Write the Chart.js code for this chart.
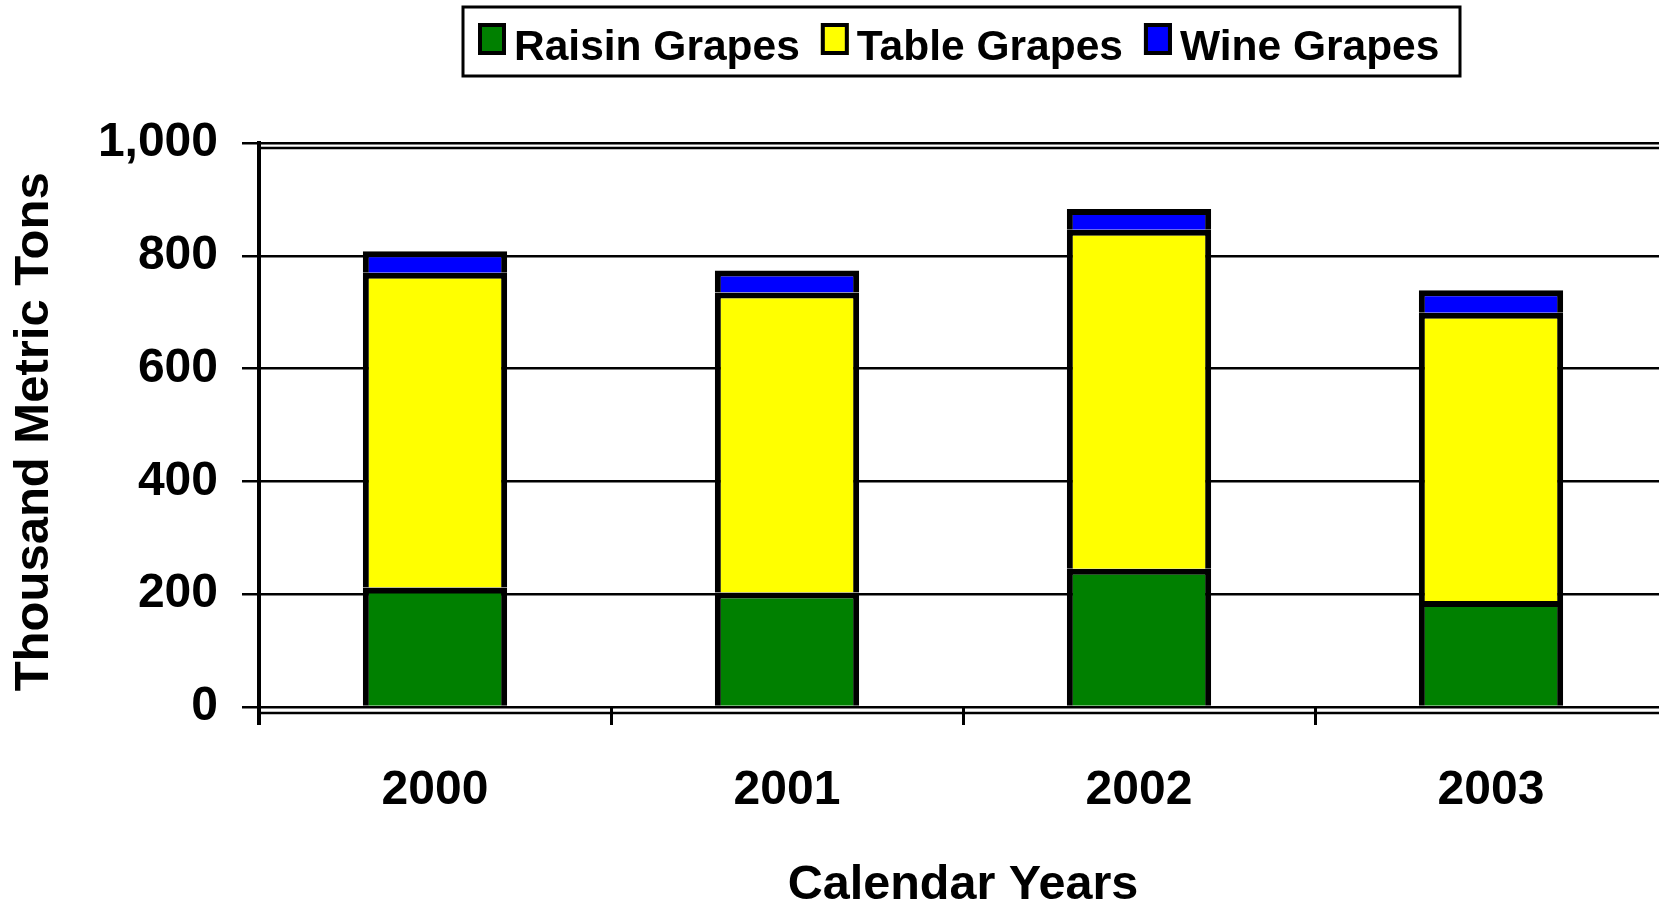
<!DOCTYPE html>
<html>
<head>
<meta charset="utf-8">
<script src="https://cdn.jsdelivr.net/npm/chart.js@4.4.1/dist/chart.umd.min.js"></script>
<style>
html, body { margin: 0; padding: 0; background: #fff; overflow: hidden; }
#wrap { width: 1700px; height: 905px; position: relative; }
</style>
</head>
<body>
<div id="wrap"><canvas id="chart"></canvas></div>
<script>
// values, thousand metric tons
const years = ['2000', '2001', '2002', '2003'];
const raisin = [212, 203, 245, 188];
const table = [558, 532, 601, 511];
const wine = [38, 39, 37, 40];
const yTicks = [0, 200, 400, 600, 800, 1000];

const FONT = '"Liberation Sans", Arial, Helvetica, sans-serif';

// boxed legend on top, drawn by hand so the spacing matches
const legendBox = {
  id: 'legendBox',
  afterDraw(chart) {
    const c = chart.ctx;
    c.save();
    c.strokeStyle = '#000';
    c.lineWidth = 3;
    c.strokeRect(463, 7, 997, 69);
    c.font = 'bold 42.5px ' + FONT;
    c.textBaseline = 'alphabetic';
    let x = 478;
    chart.data.datasets.forEach(ds => {
      c.fillStyle = ds.backgroundColor;
      c.fillRect(x, 23, 28, 32);
      c.lineWidth = 4;
      c.strokeRect(x + 2, 25, 24, 28);
      c.fillStyle = '#000';
      c.fillText(ds.label, x + 36, 60);
      x += 36 + c.measureText(ds.label).width + 21;
    });
    c.restore();
  }
};

// second frame lines under top and bottom gridlines, y axis running down past them
const plotFrame = {
  id: 'plotFrame',
  afterDatasetsDraw(chart) {
    const c = chart.ctx, a = chart.chartArea;
    c.save();
    c.strokeStyle = '#000';
    c.lineWidth = 2.5;
    c.beginPath();
    c.moveTo(a.left, a.top + 5); c.lineTo(a.right, a.top + 5);
    c.moveTo(a.left, a.bottom + 6); c.lineTo(a.right, a.bottom + 6);
    c.stroke();
    c.lineWidth = 4;
    c.beginPath();
    c.moveTo(a.left, a.top); c.lineTo(a.left, a.bottom + 18);
    c.stroke();
    c.restore();
  }
};

const barOpts = { borderColor: '#000', borderWidth: 6, barPercentage: 0.41, categoryPercentage: 1 };

new Chart(document.getElementById('chart'), {
  type: 'bar',
  data: {
    labels: years,
    datasets: [
      { label: 'Raisin Grapes', data: raisin, backgroundColor: '#008000', ...barOpts },
      { label: 'Table Grapes', data: table, backgroundColor: '#ffff00', ...barOpts },
      { label: 'Wine Grapes', data: wine, backgroundColor: '#0000ff', ...barOpts }
    ]
  },
  options: {
    responsive: true,
    maintainAspectRatio: false,
    animation: false,
    layout: { padding: { top: 143, right: 33, left: 0, bottom: 0 } },
    plugins: { legend: { display: false }, tooltip: { enabled: false } },
    scales: {
      x: {
        stacked: true,
        offset: true,
        grid: { offset: true, drawOnChartArea: false, drawTicks: true, tickLength: 18, tickWidth: 3, tickColor: '#000' },
        border: { display: false },
        ticks: { color: '#000', padding: 42, font: { family: FONT, size: 48, weight: 'bold', lineHeight: 1 } },
        title: { display: true, text: 'Calendar Years', color: '#000', padding: { top: 0, bottom: -5 },
                 font: { family: FONT, size: 48.5, weight: 'bold', lineHeight: 1 } },
        afterFit(s) { s.height = 905 - 707; }
      },
      y: {
        stacked: true,
        min: 0,
        max: 1000,
        afterBuildTicks(s) { s.ticks = yTicks.map(v => ({ value: v })); },
        grid: { color: '#000', lineWidth: 2.5, tickLength: 17, tickWidth: 2.5, tickColor: '#000' },
        border: { display: true, color: '#000', width: 4 },
        ticks: { color: '#000', padding: 24, font: { family: FONT, size: 48, weight: 'bold' },
                 callback: v => v.toLocaleString('en-US') },
        title: { display: true, text: 'Thousand Metric Tons\u00a0', color: '#000', padding: { top: 10, bottom: 0 },
                 font: { family: FONT, size: 49, weight: 'bold', lineHeight: 1 } },
        afterFit(s) { s.width = 259; }
      }
    }
  },
  plugins: [legendBox, plotFrame]
});
</script>
</body>
</html>
